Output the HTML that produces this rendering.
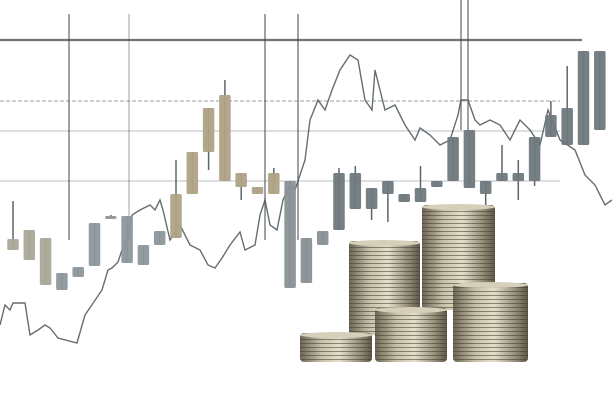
<!DOCTYPE html>
<html><head><meta charset="utf-8"><style>
html,body{margin:0;padding:0;background:#fff;width:612px;height:408px;overflow:hidden}
svg{display:block}
</style></head><body>
<svg id="chart" width="612" height="408" viewBox="0 0 612 408" xmlns="http://www.w3.org/2000/svg">
<defs>
<linearGradient id="coinG" x1="0" x2="1" y1="0" y2="0">
<stop offset="0" stop-color="#6d6656"/><stop offset="0.3" stop-color="#c9c2aa"/><stop offset="0.55" stop-color="#e4dfcb"/><stop offset="0.85" stop-color="#8f8873"/><stop offset="1" stop-color="#5c5648"/>
</linearGradient>
<pattern id="stripes" width="8" height="4" patternUnits="userSpaceOnUse">
<rect width="8" height="4" fill="none"/><rect y="3" width="8" height="1" fill="#3f3a30" opacity="0.55"/>
</pattern>
</defs>
<g id="grid"></g>
<g id="line"></g>
<g id="candles"></g>
<g id="coins"></g>
</svg>
<script>
// candle data (price units; y = 400 - price)
const opens  = [161,170,162,127,133,177,184,184,155,169,206,248,292,305,227,213,227,219,162,169,227,227,212,219,206,212,219,263,270,219,227,227,263,285,292,349,349];
const closes = [150,140,115,110,123,134,182,137,135,155,162,206,248,219,213,206,206,112,117,155,170,191,191,206,198,198,213,219,212,206,219,219,219,263,255,255,270];
const highs  = [199,170,162,127,133,177,185,184,155,169,240,248,292,320,227,213,232,219,162,169,232,234,212,219,206,234,219,263,270,219,255,240,263,299,334,349,349];
const lows   = [150,140,115,110,123,134,182,137,135,155,162,206,230,219,200,206,206,112,117,155,170,191,180,178,198,198,213,219,212,195,219,200,214,263,255,255,270];
const lineX  = [0,5,10,13,25,30,38,45,50,58,77,85,102,108,112,118,122,128,132,140,150,155,160,163,170,180,185,190,200,208,215,222,230,240,245,255,260,265,270,277,283,290,295,305,310,318,325,332,340,350,358,365,372,375,380,385,395,405,415,420,430,440,450,458,461,468,475,480,490,500,510,520,530,540,548,560,575,585,595,605,612];
const lineY  = [75,95,90,97,97,65,70,75,72,62,57,85,110,130,132,138,150,162,185,190,195,190,200,190,160,175,165,155,150,135,132,142,155,168,150,155,185,200,175,170,200,215,210,240,280,300,290,310,330,345,340,300,290,330,310,290,295,275,260,272,265,255,260,285,300,300,280,275,280,275,260,280,270,255,290,260,250,225,215,195,200];
const hGrid = [360,299,269,219];
const vGrid = [69,129,265,298,461,468];

const NS='http://www.w3.org/2000/svg';
const X0=13, DX=16.3, W=11.5;
const xs=i=>X0+DX*i, ys=p=>400-p;
function mk(t,a,parent){const e=document.createElementNS(NS,t);for(const k in a)e.setAttribute(k,a[k]);parent.appendChild(e);return e;}
const grid=document.getElementById('grid');
hGrid.forEach((p,i)=>{
  const el=mk('line',{x1:0,x2:i==0?582:560,y1:ys(p),y2:ys(p),stroke:i==0?'#3e474c':'#6b7377','stroke-width':i==0?2.2:(i==1?1.6:1),'stroke-dasharray':i==1?'4 2':'none',opacity:i==0?0.75:0.45},grid);
  
  
});
vGrid.forEach((x,i)=>{
  const el=mk('line',{x1:x,x2:x,y1:(x==461||x==468)?0:14,y2:(x==461||x==468)?130:240,stroke:'#3b4449','stroke-width':1.4,opacity:(x==129)?0.35:0.7},grid);
  
  
});
const lg=document.getElementById('line');
let d='';
lineX.forEach((x,i)=>{d+=(i?'L':'M')+x+','+ys(lineY[i]);});
const pl=mk('path',{d:d,fill:'none',stroke:'#4a5358','stroke-width':1.4,opacity:0.85},lg);


const cg=document.getElementById('candles');
function col(i){if(i<3)return '#a9a898';if(i<10)return '#8d979b';if(i<17)return '#aea285';if(i<20)return '#8a9195';return '#6e787d';}
opens.forEach((o,i)=>{
  const c=closes[i],x=xs(i),top=ys(Math.max(o,c)),bot=ys(Math.min(o,c));
  const w=mk('line',{x1:x,x2:x,y1:ys(highs[i]),y2:ys(lows[i]),stroke:'#5d666a','stroke-width':1.5},cg);
  
  
  const r=mk('rect',{x:x-W/2,y:top,width:W,height:Math.max(bot-top,3),rx:1.5,fill:col(i),opacity:0.95},cg);
  
  
});
const coins=document.getElementById('coins');
const stacks=[[349,241,71,94],[422,205,73,105],[300,333,72,29],[453,283,75,79],[375,308,72,54]];
stacks.forEach(s=>{
  const g=mk('g',{},coins);
  
  
  mk('rect',{x:s[0],y:s[1],width:s[2],height:s[3],rx:4,fill:'url(#coinG)'},g);
  mk('rect',{x:s[0],y:s[1],width:s[2],height:s[3],rx:4,fill:'url(#stripes)'},g);
  mk('ellipse',{cx:s[0]+s[2]/2,cy:s[1]+2,rx:s[2]/2,ry:3,fill:'#d6d0bb'},g);
});
</script>
</body></html>
